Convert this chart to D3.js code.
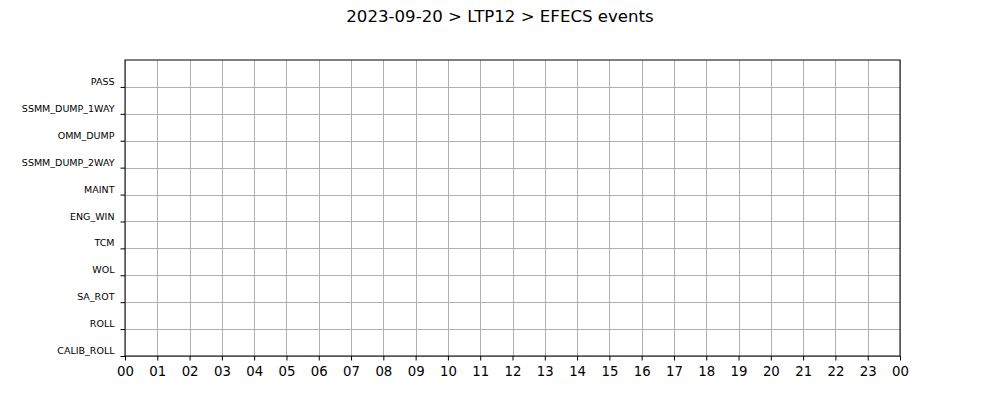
<!DOCTYPE html>
<html><head><meta charset="utf-8">
<script src="https://cdn.jsdelivr.net/npm/d3@7"></script>
<style>body{margin:0;background:#fff}svg{display:block;font-family:"DejaVu Sans",sans-serif}</style>
</head><body><div id="chart"></div>
<script>
const title = "2023-09-20 > LTP12 > EFECS events";
const categories = ["CALIB_ROLL","ROLL","SA_ROT","WOL","TCM","ENG_WIN","MAINT","SSMM_DUMP_2WAY","OMM_DUMP","SSMM_DUMP_1WAY","PASS"];
const dayStart = "2023-09-20T00:00:00";
const dayEnd = "2023-09-21T00:00:00";
const events = []; // no events on this day

const W = 1000, H = 400;
const m = {left:125, right:100, top:60, bottom:44};
const svg = d3.select("#chart").append("svg").attr("width", W).attr("height", H);
const x = d3.scaleTime().domain([new Date(dayStart), new Date(dayEnd)]).range([m.left, W - m.right]);
const y = d3.scaleLinear().domain([0, categories.length]).range([H - m.bottom, m.top]);

const hours = d3.timeHour.range(new Date(dayStart), d3.timeHour.offset(new Date(dayEnd), 1));
const yIdx = d3.range(categories.length);

// grid
svg.append("g").selectAll("line.v").data(hours).join("line")
  .attr("x1", d => Math.round(x(d)) + 0.5).attr("x2", d => Math.round(x(d)) + 0.5)
  .attr("y1", y(categories.length)).attr("y2", y(0))
  .attr("stroke", "#b0b0b0").attr("stroke-width", 1);
svg.append("g").selectAll("line.h").data(yIdx).join("line")
  .attr("y1", d => Math.round(y(d)) + 0.5).attr("y2", d => Math.round(y(d)) + 0.5)
  .attr("x1", x.range()[0]).attr("x2", x.range()[1])
  .attr("stroke", "#b0b0b0").attr("stroke-width", 1);

// x axis
const xAxis = d3.axisBottom(x).tickValues(hours).tickFormat(d3.timeFormat("%H")).tickSize(4.5).tickPadding(6);
const gx = svg.append("g").attr("transform", `translate(0,${y(0)})`).call(xAxis);
gx.select(".domain").remove();
gx.selectAll("text").attr("font-size", "13.3px").attr("font-family", "DejaVu Sans").attr("fill", "#000");
gx.selectAll("line").attr("stroke", "#000");

// y axis
const yAxis = d3.axisLeft(y).tickValues(yIdx).tickFormat(i => categories[i]).tickSize(4.5).tickPadding(6);
const gy = svg.append("g").attr("transform", `translate(${x.range()[0]},0)`).call(yAxis);
gy.select(".domain").remove();
gy.selectAll("text").attr("font-size", "9.5px").attr("font-family", "DejaVu Sans").attr("fill", "#000")
  .attr("dy", "-0.25em");
gy.selectAll("line").attr("stroke", "#000");

// frame
svg.append("rect").attr("x", x.range()[0]).attr("y", y(categories.length))
  .attr("width", x.range()[1] - x.range()[0]).attr("height", y(0) - y(categories.length))
  .attr("fill", "none").attr("stroke", "#000").attr("stroke-width", 1);

// title
svg.append("text").attr("x", W / 2).attr("y", 22).attr("text-anchor", "middle")
  .attr("font-size", "16.6px").attr("fill", "#000").text(title);
</script></body></html>
